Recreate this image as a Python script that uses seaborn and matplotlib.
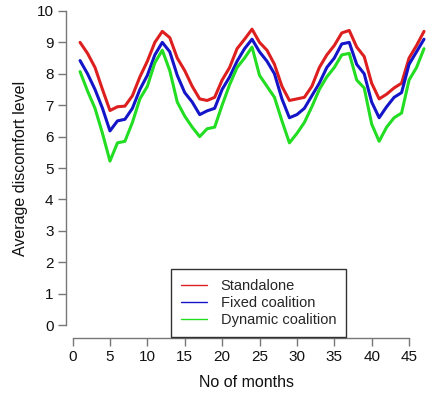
import matplotlib
matplotlib.use("Agg")
import matplotlib.pyplot as plt
import pandas as pd
import seaborn as sns
from matplotlib.lines import Line2D

months = list(range(1, 48))

standalone = [9.0, 8.65, 8.2, 7.5, 6.83, 6.95, 6.97, 7.3, 7.9, 8.4,
              9.0, 9.35, 9.15, 8.5, 8.1, 7.6, 7.2, 7.15, 7.25, 7.8,
              8.2, 8.8, 9.1, 9.42, 9.0, 8.75, 8.3, 7.6, 7.15, 7.2,
              7.25, 7.6, 8.2, 8.6, 8.9, 9.3, 9.38, 8.85, 8.55, 7.7,
              7.2, 7.35, 7.55, 7.7, 8.5, 8.9, 9.35]
fixed = [8.42, 8.0, 7.5, 6.9, 6.18, 6.5, 6.55, 6.9, 7.5, 7.95,
         8.6, 9.0, 8.7, 7.95, 7.4, 7.1, 6.7, 6.82, 6.9, 7.5,
         7.9, 8.4, 8.8, 9.1, 8.7, 8.4, 8.0, 7.2, 6.6, 6.7,
         6.9, 7.3, 7.7, 8.2, 8.5, 8.95, 9.0, 8.3, 8.0, 7.1,
         6.6, 6.95, 7.25, 7.4, 8.3, 8.7, 9.1]
dynamic = [8.07, 7.45, 6.9, 6.1, 5.22, 5.8, 5.85, 6.45, 7.2, 7.6,
           8.35, 8.75, 8.1, 7.1, 6.65, 6.3, 6.0, 6.25, 6.3, 7.0,
           7.65, 8.2, 8.5, 8.85, 7.95, 7.6, 7.25, 6.5, 5.8, 6.1,
           6.45, 6.95, 7.5, 7.9, 8.2, 8.6, 8.65, 7.8, 7.55, 6.4,
           5.85, 6.3, 6.6, 6.75, 7.8, 8.2, 8.8]

series_names = ["Standalone", "Fixed coalition", "Dynamic coalition"]
colors = ["#dd1f1f", "#1414c8", "#22dd22"]

sns.set_style("white")
plt.rcParams["font.family"] = ["Liberation Sans", "DejaVu Sans"]

df = pd.DataFrame({
    "month": months * 3,
    "value": standalone + fixed + dynamic,
    "series": sum([[n] * len(months) for n in series_names], []),
})

fig = plt.figure(figsize=(4.27, 3.94), dpi=100)
ax = fig.add_axes([66 / 427, (394 - 337.6) / 394, 1 - 66 / 427, 339.2 / 394])

sns.lineplot(data=df, x="month", y="value", hue="series", hue_order=series_names,
             palette=colors, linewidth=2.2, legend=False, ax=ax)

ax.set_xlim(-0.88, 47.4)
ax.set_ylim(-0.4, 10.4)
ax.set_xticks(range(0, 46, 5))
ax.set_yticks(range(0, 11))
for side in ["top", "right"]:
    ax.spines[side].set_visible(False)
ax.spines["left"].set_bounds(0, 10)
ax.spines["bottom"].set_bounds(0, 45)
for side in ["left", "bottom"]:
    ax.spines[side].set_color("#777777")
    ax.spines[side].set_linewidth(1.0)
ax.tick_params(axis="both", bottom=True, left=True, direction="out", length=6,
               width=1.0, color="#777777", labelsize=11, labelcolor="#111111", pad=3)
ax.set_xlabel("No of months", fontsize=11.5, color="#111111", labelpad=8)
ax.set_ylabel("Average discomfort level", fontsize=11.5, color="#111111", labelpad=6)
ax.grid(False)

handles = [Line2D([0], [0], color=c, lw=1.0) for c in colors]
leg = fig.legend(handles, series_names, loc="lower left",
                 bbox_to_anchor=(171 / 427, 57 / 394), frameon=True, fancybox=False,
                 fontsize=10.5, handlelength=1.8, handletextpad=0.9,
                 borderpad=0.7, labelspacing=0.2, borderaxespad=0)
leg.get_frame().set_edgecolor("black")
leg.get_frame().set_linewidth(1.0)

fig.savefig("out.png", dpi=100)
